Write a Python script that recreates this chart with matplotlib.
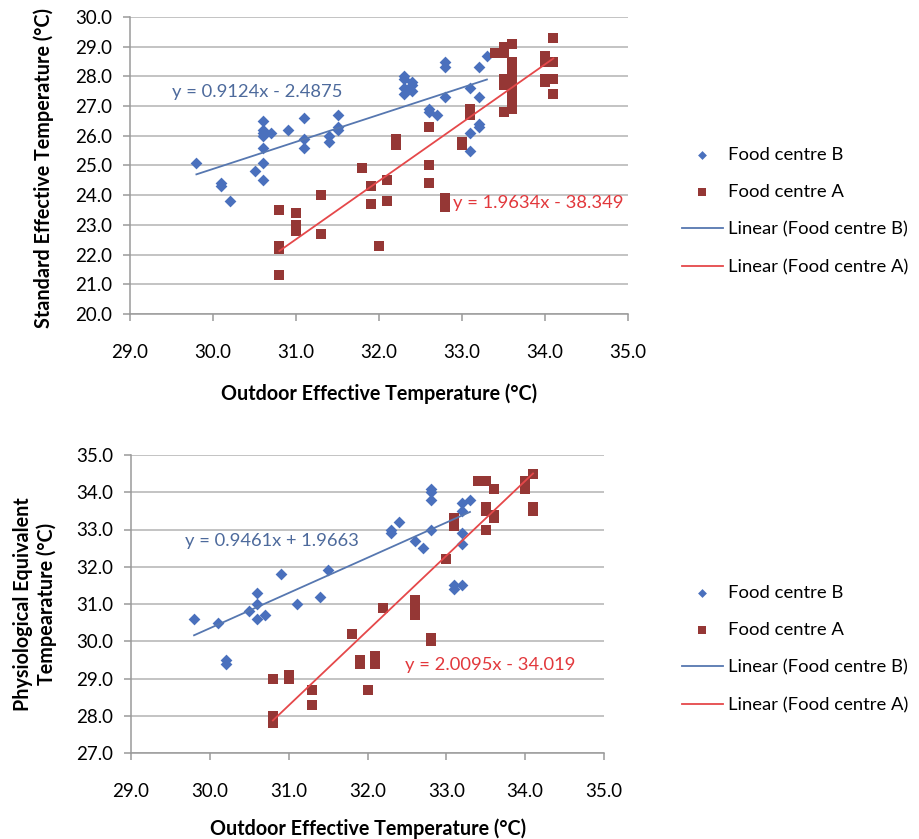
import matplotlib
matplotlib.use("Agg")
import matplotlib.pyplot as plt
import numpy as np

plt.rcParams["font.family"] = ["Lato", "DejaVu Sans"]

W, H = 920, 839

# --- data ------------------------------------------------------------------
# Standard Effective Temperature vs outdoor ET
set_b_x = [29.8, 30.1, 30.1, 30.2, 30.5, 30.6, 30.6, 30.6, 30.6, 30.6, 30.6, 30.6,
           30.7, 30.9, 31.1, 31.1, 31.1, 31.4, 31.4, 31.5, 31.5, 31.5,
           32.3, 32.3, 32.3, 32.3, 32.4, 32.4, 32.4, 32.6, 32.6, 32.7,
           32.8, 32.8, 32.8, 33.1, 33.1, 33.1, 33.2, 33.2, 33.2, 33.2, 33.3]
set_b_y = [25.1, 24.4, 24.3, 23.8, 24.8, 24.5, 25.1, 25.6, 26.0, 26.1, 26.2, 26.5,
           26.1, 26.2, 26.6, 25.9, 25.6, 26.0, 25.8, 26.7, 26.3, 26.2,
           28.0, 27.9, 27.6, 27.4, 27.8, 27.7, 27.5, 26.9, 26.8, 26.7,
           28.5, 28.3, 27.3, 27.6, 26.1, 25.5, 28.3, 27.3, 26.4, 26.3, 28.7]
set_a_x = [30.8, 30.8, 30.8, 30.8, 31.0, 31.0, 31.0, 31.3, 31.3, 31.8, 31.9, 31.9,
           32.0, 32.1, 32.1, 32.2, 32.2, 32.6, 32.6, 32.6, 32.8, 32.8, 33.0, 33.0,
           33.1, 33.1, 33.4, 33.5, 33.5, 33.5, 33.5, 33.5,
           33.6, 33.6, 33.6, 33.6, 33.6, 33.6, 33.6, 33.6,
           34.0, 34.0, 34.0, 34.0, 34.1, 34.1, 34.1, 34.1]
set_a_y = [23.5, 22.3, 22.2, 21.3, 23.4, 23.0, 22.8, 24.0, 22.7, 24.9, 24.3, 23.7,
           22.3, 24.5, 23.8, 25.9, 25.7, 26.3, 25.0, 24.4, 23.9, 23.6, 25.8, 25.7,
           26.9, 26.7, 28.8, 29.0, 28.8, 27.9, 27.7, 26.8,
           29.1, 28.5, 28.2, 27.9, 27.6, 27.3, 27.1, 26.9,
           28.7, 28.5, 27.9, 27.8, 29.3, 28.5, 27.9, 27.4]

# Physiological Equivalent Temperature vs outdoor ET
pet_b_x = [29.8, 30.1, 30.2, 30.2, 30.5, 30.6, 30.6, 30.6, 30.7, 30.9, 31.1, 31.4,
           31.5, 32.3, 32.3, 32.4, 32.6, 32.7, 32.8, 32.8, 32.8, 32.8,
           33.1, 33.1, 33.2, 33.2, 33.2, 33.2, 33.2, 33.3]
pet_b_y = [30.6, 30.5, 29.5, 29.4, 30.8, 30.6, 31.0, 31.3, 30.7, 31.8, 31.0, 31.2,
           31.9, 33.0, 32.9, 33.2, 32.7, 32.5, 34.1, 34.0, 33.8, 33.0,
           31.5, 31.4, 31.5, 33.7, 33.5, 32.9, 32.6, 33.8]
pet_a_x = [30.8, 30.8, 30.8, 31.0, 31.0, 31.3, 31.3, 31.8, 31.9, 31.9, 32.0, 32.1,
           32.1, 32.2, 32.6, 32.6, 32.6, 32.8, 32.8, 33.0, 33.1, 33.1,
           33.4, 33.5, 33.5, 33.5, 33.5, 33.6, 33.6, 33.6, 34.0, 34.0, 34.1, 34.1, 34.1]
pet_a_y = [29.0, 28.0, 27.8, 29.1, 29.0, 28.7, 28.3, 30.2, 29.5, 29.4, 28.7, 29.6,
           29.4, 30.9, 31.1, 30.9, 30.7, 30.1, 30.0, 32.2, 33.3, 33.1,
           34.3, 34.3, 33.6, 33.5, 33.0, 34.1, 33.4, 33.3, 34.3, 34.1, 34.5, 33.6, 33.5]

# trendline coefficients as printed on the chart (slope, intercept)
set_fit_b = (0.9124, -2.4875)
set_fit_a = (1.9634, -38.349)
pet_fit_b = (0.9461, 1.9663)
pet_fit_a = (2.0095, -34.019)

x_ticks = [29.0, 30.0, 31.0, 32.0, 33.0, 34.0, 35.0]

BLUE = "#4a70bd"
RED = "#953735"
BLUE_LINE = "#5677b0"
RED_LINE = "#e5484a"
BLUE_TXT = "#4d6a9c"
RED_TXT = "#e2383c"
GRID = "#b3b3b3"


def eq_label(fit):
    m, c = fit
    sign = "+" if c >= 0 else "-"
    return f"y = {m:.4f}x {sign} {abs(c):g}"


def panel(rect, bx, by, ax_, ay, fit_b, fit_a, ylim, eq_pos_b, eq_pos_a):
    ax = fig.add_axes(rect)
    ax.scatter(bx, by, marker="D", s=36, color=BLUE, linewidths=0, zorder=3,
               label="Food centre B")
    ax.scatter(ax_, ay, marker="s", s=58, color=RED, linewidths=0, zorder=3,
               label="Food centre A")
    xb = np.array([min(bx), max(bx)])
    xa = np.array([min(ax_), max(ax_)])
    ax.plot(xb, fit_b[0] * xb + fit_b[1], color=BLUE_LINE, lw=1.3, zorder=4,
            label="Linear (Food centre B)")
    ax.plot(xa, fit_a[0] * xa + fit_a[1], color=RED_LINE, lw=1.3, zorder=4,
            label="Linear (Food centre A)")
    ax.text(*eq_pos_b, eq_label(fit_b), color=BLUE_TXT, fontsize=13.2,
            va="center", ha="left", zorder=5)
    ax.text(*eq_pos_a, eq_label(fit_a), color=RED_TXT, fontsize=13.2,
            va="center", ha="left", zorder=5)

    ax.set_xlim(29, 35)
    ax.set_ylim(*ylim)
    ax.set_xticks(x_ticks)
    ax.set_yticks(np.arange(ylim[0], ylim[1] + 0.5, 1.0))
    ax.xaxis.set_major_formatter(matplotlib.ticker.FormatStrFormatter("%.1f"))
    ax.yaxis.set_major_formatter(matplotlib.ticker.FormatStrFormatter("%.1f"))
    ax.grid(axis="y", color=GRID, lw=1.1)
    ax.set_axisbelow(True)
    for s in ("top", "right"):
        ax.spines[s].set_visible(False)
    for s in ("left", "bottom"):
        ax.spines[s].set_color("#9a9a9a")
        ax.spines[s].set_linewidth(1.1)
    ax.tick_params(axis="x", direction="out", length=5, width=1.1, color="#9a9a9a",
                   labelsize=13.5, pad=16.5)
    ax.tick_params(axis="y", direction="out", length=5, width=1.1, color="#9a9a9a",
                   labelsize=13.5, pad=8)
    return ax


def fx(px):
    return px / W


def fy(py):
    return 1 - py / H


fig = plt.figure(figsize=(W / 100, H / 100), dpi=100)

top = panel([fx(130), fy(314), (628 - 130) / W, (314 - 17) / H],
            set_b_x, set_b_y, set_a_x, set_a_y, set_fit_b, set_fit_a,
            (20, 30), (29.5, 27.47), (32.89, 23.74))
bot = panel([fx(131), fy(753), (604 - 131) / W, (753 - 455) / H],
            pet_b_x, pet_b_y, pet_a_x, pet_a_y, pet_fit_b, pet_fit_a,
            (27, 35), (29.68, 32.68), (32.48, 29.37))

lab = dict(fontsize=14.2, fontweight="bold", ha="center", va="center")
fig.text(fx(44), fy(168), "Standard Effective Temperature (°C)", rotation=90, **lab)
fig.text(fx(379), fy(394), "Outdoor Effective Temperature (°C)", **lab)
fig.text(fx(35), fy(604), "Physiological Equivalent\nTempearature (°C)", rotation=90,
         linespacing=1.25, **lab)
fig.text(fx(368), fy(829), "Outdoor Effective Temperature (°C)", **lab)

for ax, yc in ((top, 211), (bot, 649)):
    ax.legend(loc="center left", bbox_to_anchor=(fx(682), fy(yc)),
              bbox_transform=fig.transFigure, frameon=False, fontsize=13.3,
              borderpad=0, borderaxespad=0, handlelength=2.2, handletextpad=0.3,
              labelspacing=1.15, markerscale=0.75)

fig.savefig("out.png", dpi=100)
